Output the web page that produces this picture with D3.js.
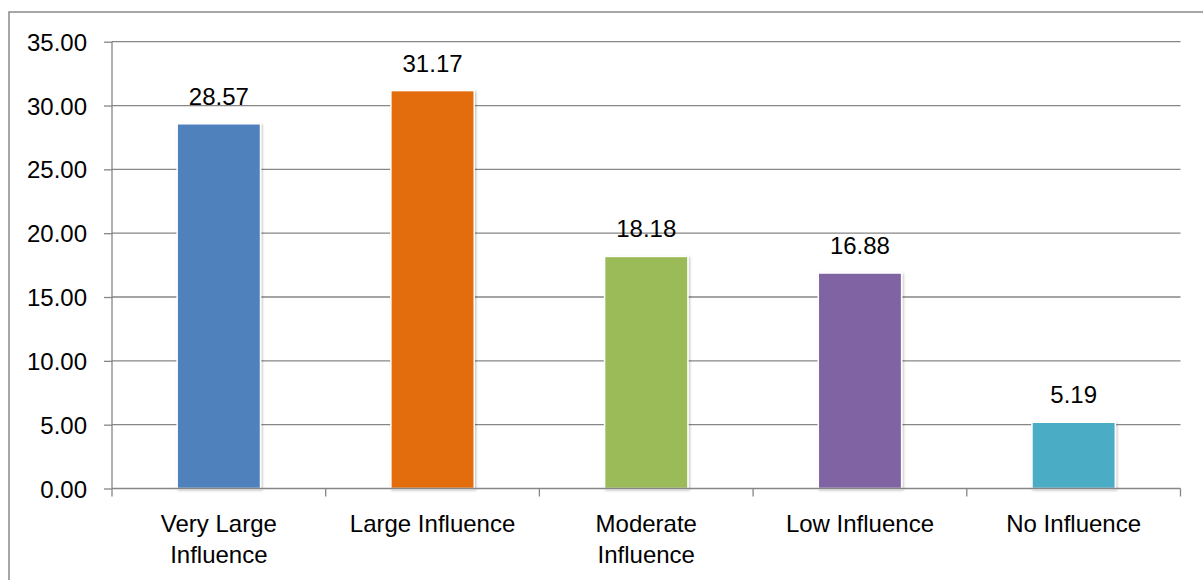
<!DOCTYPE html>
<html><head><meta charset="utf-8">
<script src="https://cdn.jsdelivr.net/npm/d3@7/dist/d3.min.js"></script>
<style>
html,body{margin:0;padding:0;background:#fff;}
svg text{font-family:"Liberation Sans",Arial,sans-serif;fill:#000;}
</style></head>
<body><svg id="c" width="1203" height="580"></svg>
<script>
const categories = [["Very Large","Influence"],["Large Influence"],["Moderate","Influence"],["Low Influence"],["No Influence"]];
const values = [28.57, 31.17, 18.18, 16.88, 5.19];
const colors = ["#4F81BD","#E36C09","#9BBB59","#8064A2","#4BACC6"];
const yTicks = [0,5,10,15,20,25,30,35];

const svg = d3.select("#c");
const m = {left:112, right:1180.5, top:41.7, bottom:488.5};
const fs = 24;

// chart border
svg.append("rect").attr("x",9).attr("y",12).attr("width",1220).attr("height",620)
  .attr("fill","none").attr("stroke","#898989").attr("stroke-width",1.5);

const defs = svg.append("defs");
const f = defs.append("filter").attr("id","sh").attr("x","-20%").attr("y","-20%").attr("width","140%").attr("height","140%");
f.append("feDropShadow").attr("dx",1.2).attr("dy",1.2).attr("stdDeviation",1.2).attr("flood-color","#000").attr("flood-opacity",0.25);

const y = d3.scaleLinear().domain([0,35]).range([m.bottom,m.top]);
const idx = d3.range(categories.length);
const xb = d3.scaleBand().domain(idx).range([m.left,m.right]).paddingInner(0.61).paddingOuter(0.305);
const xs = d3.scaleBand().domain(idx).range([m.left,m.right]).padding(0);

// gridlines
svg.append("g").selectAll("line").data(yTicks.filter(d=>d>0)).join("line")
  .attr("x1",m.left).attr("x2",m.right).attr("y1",d=>y(d)).attr("y2",d=>y(d))
  .attr("stroke","#868686").attr("stroke-width",1.3);

// y axis
const ya = d3.axisLeft(y).tickValues(yTicks).tickFormat(d3.format(".2f")).tickSize(8).tickPadding(17);
const gy = svg.append("g").attr("transform",`translate(${m.left},0)`).call(ya);
gy.selectAll("line,path").attr("stroke","#868686").attr("stroke-width",1.3);
gy.select(".domain").attr("d",`M0,${m.top}V${m.bottom}`);
gy.selectAll("text").attr("font-size",fs).attr("font-family","Liberation Sans").attr("fill","#000").attr("dy","0.36em");

// bars
svg.append("g").selectAll("rect").data(values).join("rect")
  .attr("x",(d,i)=>xb(i)).attr("width",xb.bandwidth())
  .attr("y",d=>y(d)).attr("height",d=>y(0)-y(d))
  .attr("fill",(d,i)=>colors[i]).attr("stroke","#fff").attr("stroke-width",1.5)
  .attr("filter","url(#sh)");

// x axis
const gx = svg.append("g").attr("transform",`translate(0,${m.bottom})`);
gx.append("line").attr("x1",m.left).attr("x2",m.right).attr("stroke","#868686").attr("stroke-width",1.3);
const bounds = idx.map(i=>xs(i)).concat([m.right]);
gx.selectAll("line.t").data(bounds).join("line").attr("class","t")
  .attr("x1",d=>d).attr("x2",d=>d).attr("y1",0).attr("y2",8)
  .attr("stroke","#868686").attr("stroke-width",1.3);
const lab = gx.selectAll("text.c").data(categories).join("text").attr("class","c")
  .attr("text-anchor","middle").attr("font-size",fs)
  .attr("transform",(d,i)=>`translate(${xs(i)+xs.bandwidth()/2},0)`);
lab.selectAll("tspan").data(d=>d).join("tspan").attr("x",0).attr("y",(d,j)=>43+j*31).text(d=>d);

// value labels
svg.append("g").selectAll("text").data(values).join("text")
  .attr("x",(d,i)=>xb(i)+xb.bandwidth()/2).attr("y",d=>y(d)-19)
  .attr("text-anchor","middle").attr("font-size",fs).text(d=>d.toFixed(2));
</script></body></html>
